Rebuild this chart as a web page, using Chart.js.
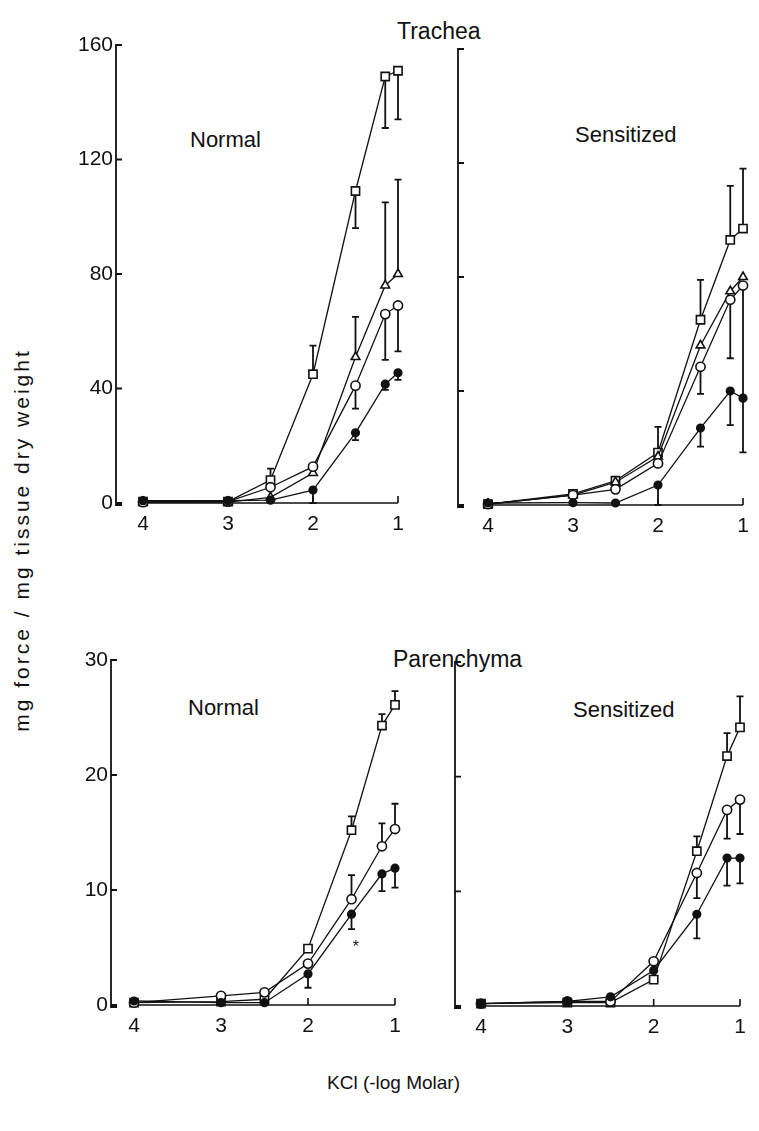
<!DOCTYPE html>
<html>
<head>
<meta charset="utf-8">
<script src="https://cdn.jsdelivr.net/npm/chart.js@4.4.1/dist/chart.umd.min.js"></script>
<style>
  body { margin: 0; background: #fff; width: 759px; height: 1131px; position: relative; overflow: hidden;
         font-family: "Liberation Sans", Arial, sans-serif; color: #111; }
  canvas { position: absolute; }
  .txt { position: absolute; line-height: 1; white-space: nowrap; }
</style>
</head>
<body>

<div class="txt" style="left:397px;top:20px;font-size:23px;">Trachea</div>
<div class="txt" style="left:393px;top:648px;font-size:23px;">Parenchyma</div>
<div class="txt" style="left:190px;top:129px;font-size:22px;">Normal</div>
<div class="txt" style="left:575px;top:124px;font-size:22px;">Sensitized</div>
<div class="txt" style="left:188px;top:697px;font-size:22px;">Normal</div>
<div class="txt" style="left:573px;top:699px;font-size:22px;">Sensitized</div>
<div class="txt" style="left:21px;top:540px;font-size:21px;letter-spacing:3px;transform:translate(-50%,-50%) rotate(-90deg);">mg force / mg tissue dry weight</div>
<div class="txt" style="left:327px;top:1073px;font-size:19px;">KCl (-log Molar)</div>

<canvas id="trNorm"></canvas>
<canvas id="trSens"></canvas>
<canvas id="parNorm"></canvas>
<canvas id="parSens"></canvas>

<script>
// ---- data ----
const kcl = [4, 3, 2.5, 2, 1.5, 1.15, 1];
const kclTicks = [4, 3, 2, 1];
const tracheaTicks = [0, 40, 80, 120, 160];
const parenchymaTicks = [0, 10, 20, 30];

// error bars: positive = drawn up, negative = drawn down, 0 = none

// Trachea, normal
const trNormSquare      = [0.5, 0.5, 8, 45, 109, 149, 151];
const trNormSquareErr   = [0, 0, 4, 10, -13, -18, -17];
const trNormTriangle    = [0.3, 0.3, 2, 10.5, 51, 76, 80];
const trNormTriangleErr = [0, 0, 0, 0, 14, 29, 33];
const trNormCircle      = [0.3, 0.5, 5.5, 12.7, 41, 66, 69];
const trNormCircleErr   = [0, 0, 0, 0, -8, -16, -16];
const trNormFilled      = [0.8, 0.8, 1, 4.5, 24.5, 41.5, 45.5];
const trNormFilledErr   = [0, 0, 0, -4.5, -2.5, -2, -2.5];

// Trachea, sensitized
const trSensSquare      = [0.3, 3.9, 8.5, 18.4, 65, 93, 97];
const trSensSquareErr   = [0, 0, 0, 9, 14, 19, 21];
const trSensTriangle    = [0.3, 3.5, 8, 17, 56, 75, 80];
const trSensTriangleErr = [0, 0, 0, 0, 0, 0, 0];
const trSensCircle      = [0.3, 3.5, 5.5, 14.6, 48.5, 72, 77];
const trSensCircleErr   = [0, 0, 0, 0, -9.5, -20.5, -40];
const trSensFilled      = [0.7, 0.8, 0.7, 7, 27, 40, 37.5];
const trSensFilledErr   = [0, 0, 0, -7, -6.5, -12, -19];

// Parenchyma, normal
const parNormSquare     = [0.2, 0.3, 0.5, 4.9, 15.2, 24.3, 26.1];
const parNormSquareErr  = [0, 0, 0, 0, 1.2, 1, 1.2];
const parNormCircle     = [0.2, 0.8, 1.1, 3.6, 9.2, 13.8, 15.3];
const parNormCircleErr  = [0, 0, 0, 0, 2.1, 2, 2.2];
const parNormFilled     = [0.35, 0.2, 0.2, 2.7, 7.9, 11.4, 11.9];
const parNormFilledErr  = [0, 0, 0, -1.2, -1.3, -1.5, -1.7];
const parNormStar       = [1.45, 5.0];

// Parenchyma, sensitized
const parSensSquare     = [0.2, 0.3, 0.3, 2.3, 13.5, 21.8, 24.3];
const parSensSquareErr  = [0, 0, 0, 0, 1.3, 2, 2.7];
const parSensCircle     = [0.2, 0.4, 0.4, 3.9, 11.6, 17.1, 18];
const parSensCircleErr  = [0, 0, 0, 0, -2.2, -2.5, -3];
const parSensFilled     = [0.2, 0.4, 0.8, 3.1, 8.0, 12.9, 12.9];
const parSensFilledErr  = [0, 0, 0, 0, -2.1, -2.4, -2.2];

const INK = "#111";
const FONT = "'Liberation Sans', Arial, sans-serif";

function series(vals, errs, style) {
  const filled = style === "filled";
  return {
    data: kcl.map((x, i) => ({ x: x, y: vals[i] })),
    errors: errs,
    borderColor: INK,
    borderWidth: 1.3,
    tension: 0,
    clip: false,
    pointStyle: filled ? "circle" : style,
    pointRadius: filled ? 3.8 : (style === "rect" ? 5.8 : (style === "triangle" ? 5 : 4.6)),
    pointBorderWidth: 1.6,
    pointBorderColor: INK,
    pointBackgroundColor: filled ? INK : "#fff"
  };
}

// bracket-style y axis, x axis line and error bars, drawn from the scales
const framePlugin = {
  id: "frame",
  beforeDatasetsDraw(chart) {
    const { ctx, scales } = chart;
    const xs = scales.x, ys = scales.y;
    const left = chart.chartArea.left;
    const yTicks = chart.options.plugins.frame.yTicks;
    const top = ys.getPixelForValue(yTicks[yTicks.length - 1]);
    const bottom = ys.getPixelForValue(0);
    ctx.save();
    ctx.strokeStyle = INK;
    ctx.lineWidth = 1.8;
    ctx.beginPath();
    ctx.moveTo(left + 6, top);
    ctx.lineTo(left, top);
    ctx.lineTo(left, bottom + 2);
    ctx.lineTo(left + 6, bottom + 2);
    yTicks.forEach(v => {
      const y = ys.getPixelForValue(v);
      ctx.moveTo(left, y);
      ctx.lineTo(left + 6, y);
    });
    ctx.stroke();

    ctx.lineWidth = 1.6;
    ctx.beginPath();
    ctx.moveTo(xs.getPixelForValue(4), bottom);
    ctx.lineTo(xs.getPixelForValue(1), bottom);
    kclTicks.forEach(v => {
      const x = xs.getPixelForValue(v);
      ctx.moveTo(x, bottom);
      ctx.lineTo(x, bottom - 7);
    });
    ctx.stroke();

    ctx.lineWidth = 1.8;
    chart.data.datasets.forEach(ds => {
      ds.data.forEach((p, i) => {
        const e = ds.errors[i];
        if (!e) return;
        const x = xs.getPixelForValue(p.x);
        const y1 = ys.getPixelForValue(p.y);
        const y2 = ys.getPixelForValue(p.y + e);
        ctx.beginPath();
        ctx.moveTo(x, y1);
        ctx.lineTo(x, y2);
        ctx.moveTo(x - 3.5, y2);
        ctx.lineTo(x + 3.5, y2);
        ctx.stroke();
      });
    });

    const star = chart.options.plugins.frame.star;
    if (star) {
      ctx.fillStyle = INK;
      ctx.font = "16px " + FONT;
      ctx.textAlign = "center";
      ctx.textBaseline = "middle";
      ctx.fillText("*", xs.getPixelForValue(star[0]), ys.getPixelForValue(star[1]));
    }
    ctx.restore();
  }
};

function makePanel(id, box, yTicks, showY, datasets, star) {
  const k = (box.p1 - box.p4) / 3;
  const xMax = 4 + (box.p4 - box.L) / k;
  const xMin = 1 - (box.R - box.p1) / k;
  const yw = showY ? 60 : 4;
  const padTop = 16, xh = 46;
  const cv = document.getElementById(id);
  const w = yw + box.R - box.L;
  const h = padTop + box.y0 - box.yTop + xh;
  cv.width = w; cv.height = h;
  cv.style.left = (box.L - yw) + "px";
  cv.style.top = (box.yTop - padTop) + "px";
  cv.style.width = w + "px";
  cv.style.height = h + "px";

  new Chart(cv.getContext("2d"), {
    type: "line",
    data: { datasets: datasets },
    options: {
      responsive: false,
      animation: false,
      layout: { autoPadding: false, padding: { top: padTop, left: 0, right: 0, bottom: 0 } },
      plugins: {
        legend: { display: false },
        tooltip: { enabled: false },
        frame: { yTicks: yTicks, star: star }
      },
      scales: {
        x: {
          type: "linear",
          reverse: true,
          min: xMin,
          max: xMax,
          grid: { display: false, drawTicks: false },
          border: { display: false },
          afterBuildTicks: s => { s.ticks = kclTicks.map(v => ({ value: v })); },
          afterFit: s => { s.height = xh; s.paddingLeft = 0; s.paddingRight = 0; },
          ticks: { color: INK, padding: 9, autoSkip: false, maxRotation: 0,
                   font: { size: 21, family: FONT }, callback: v => String(v) }
        },
        y: {
          type: "linear",
          min: 0,
          max: yTicks[yTicks.length - 1],
          grid: { display: false, drawTicks: false },
          border: { display: false },
          afterBuildTicks: s => { s.ticks = yTicks.map(v => ({ value: v })); },
          afterFit: s => { s.width = yw; },
          ticks: { display: showY, color: INK, padding: 3,
                   font: { size: 21, family: FONT }, callback: v => String(v) }
        }
      }
    },
    plugins: [framePlugin]
  });
}

// filled series first so it is drawn on top
makePanel("trNorm", { L: 116, R: 412, p4: 143, p1: 398, yTop: 45, y0: 503 }, tracheaTicks, true, [
  series(trNormFilled, trNormFilledErr, "filled"),
  series(trNormCircle, trNormCircleErr, "circle"),
  series(trNormTriangle, trNormTriangleErr, "triangle"),
  series(trNormSquare, trNormSquareErr, "rect")
]);

makePanel("trSens", { L: 458, R: 756, p4: 488, p1: 743, yTop: 49, y0: 505 }, tracheaTicks, false, [
  series(trSensFilled, trSensFilledErr, "filled"),
  series(trSensCircle, trSensCircleErr, "circle"),
  series(trSensTriangle, trSensTriangleErr, "triangle"),
  series(trSensSquare, trSensSquareErr, "rect")
]);

makePanel("parNorm", { L: 111, R: 410, p4: 134, p1: 395, yTop: 660, y0: 1005 }, parenchymaTicks, true, [
  series(parNormFilled, parNormFilledErr, "filled"),
  series(parNormCircle, parNormCircleErr, "circle"),
  series(parNormSquare, parNormSquareErr, "rect")
], parNormStar);

makePanel("parSens", { L: 455, R: 754, p4: 481, p1: 740, yTop: 662, y0: 1006 }, parenchymaTicks, false, [
  series(parSensFilled, parSensFilledErr, "filled"),
  series(parSensCircle, parSensCircleErr, "circle"),
  series(parSensSquare, parSensSquareErr, "rect")
]);
</script>
</body>
</html>
